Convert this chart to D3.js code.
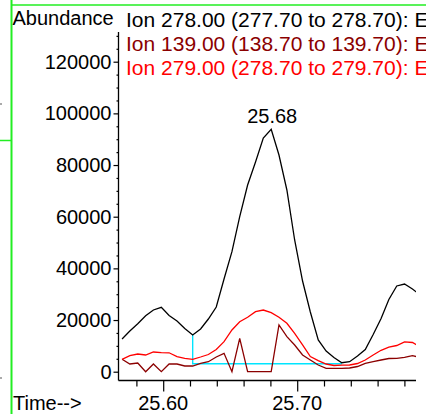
<!DOCTYPE html>
<html><head><meta charset="utf-8">
<script src="https://cdn.jsdelivr.net/npm/d3@7"></script>
<style>
html,body{margin:0;padding:0;background:#fff;overflow:hidden;}
svg{display:block;font-family:"Liberation Sans",Arial,sans-serif;}
</style></head>
<body>
<svg id="c" width="426" height="414"></svg>
<script>
const times = [25.5693,25.5751,25.5810,25.5869,25.5927,25.5986,25.6044,25.6103,25.6161,25.6220,
  25.6279,25.6337,25.6396,25.6454,25.6513,25.6571,25.6630,25.6689,25.6747,25.6806,
  25.6864,25.6923,25.6981,25.7040,25.7098,25.7157,25.7216,25.7274,25.7333,25.7391,
  25.7450,25.7508,25.7567,25.7626,25.7684,25.7743,25.7801,25.7860,25.7918];
const ion278 = [12660,15750,18580,21680,23880,24930,21760,19630,16720,14210,
  16530,20400,25050,35880,46450,60000,72270,81180,90470,93830,
  83890,70340,50990,35110,23110,12270,8010,5500,3480,3870,
  6080,8590,14400,20590,27950,33180,33950,32010,29690];
const ion139 = [4800,2980,3370,0,2980,0,2980,2980,2210,2210,
  3250,3870,5690,7120,0,12930,0,0,0,0,
  18080,13550,10340,6460,4530,2590,1320,1320,1320,1430,
  2010,3250,3870,4530,5110,5190,5570,6190,5500];
const ion279 = [4800,6190,6850,6460,7630,7350,7320,5810,5190,4800,
  5690,6660,8590,11610,16140,19360,21060,23230,23880,22840,
  21060,18740,14860,10340,5880,4260,2980,2400,2520,2590,
  3170,4530,6460,8280,9480,10140,11540,11300,9560];
const seriesNames = ["Ion 278.00 (277.70 to 278.70): EIC",
                     "Ion 139.00 (138.70 to 139.70): EIC",
                     "Ion 279.00 (278.70 to 279.70): EIC"];
const seriesColors = ["#000000","#8b0000","#ff0000"];
const yMajorTicks = [0,20000,40000,60000,80000,100000,120000];
const yMinorTicks = [5000,10000,15000,25000,30000,35000,45000,50000,55000,65000,70000,75000,
  85000,90000,95000,105000,110000,115000,125000,130000];
const xMajorTicks = [25.60,25.70];
const xMinorTicks = [25.58,25.62,25.64,25.66,25.68,25.72,25.74,25.76,25.78];
const peakLabel = "25.68";
const peakIndex = 19;
const baseStartIndex = 9, baseEndIndex = 28, baseValue = 3060;

const svg = d3.select("#c");
const x = d3.scaleLinear().domain([25.60,25.70]).range([163.2,297.2]);
const y = d3.scaleLinear().domain([0,120000]).range([371.7,61.7]);
const pLeft = 118.5, pRight = 416, pBottom = 380.5, pTop = 32;

// frame decorations
svg.append("line").attr("x1",11.5).attr("x2",11.5).attr("y1",0).attr("y2",414).attr("stroke","#22ee22").attr("stroke-width",2);
svg.append("line").attr("x1",11).attr("x2",426).attr("y1",5).attr("y2",5).attr("stroke","#22ee22").attr("stroke-width",1.5);
svg.append("line").attr("x1",0).attr("x2",11).attr("y1",140.5).attr("y2",140.5).attr("stroke","#22ee22").attr("stroke-width",1.5);
svg.append("rect").attr("x",0).attr("y",103).attr("width",2).attr("height",2).attr("fill","#aaa");
svg.append("rect").attr("x",0).attr("y",377).attr("width",2).attr("height",2).attr("fill","#aaa");

// axes lines
svg.append("line").attr("x1",pLeft).attr("x2",pLeft).attr("y1",pTop).attr("y2",pBottom).attr("stroke","#000").attr("stroke-width",1.3);
svg.append("line").attr("x1",pLeft).attr("x2",pRight).attr("y1",pBottom).attr("y2",pBottom).attr("stroke","#000").attr("stroke-width",1.3);

const yAx = svg.append("g").attr("transform",`translate(${pLeft},0)`)
  .call(d3.axisLeft(y).tickValues(yMajorTicks).tickSize(5).tickPadding(2).tickFormat(d3.format("d")));
yAx.select(".domain").remove();
yAx.selectAll("text").attr("font-size",20).attr("font-family","Liberation Sans, Arial, sans-serif").attr("fill","#000");
const yMin = svg.append("g").attr("transform",`translate(${pLeft},0)`)
  .call(d3.axisLeft(y).tickValues(yMinorTicks).tickSize(2).tickFormat(""));
yMin.select(".domain").remove();

const xAx = svg.append("g").attr("transform",`translate(0,${pBottom})`)
  .call(d3.axisBottom(x).tickValues(xMajorTicks).tickSize(11).tickFormat(""));
xAx.select(".domain").remove();
const xMin = svg.append("g").attr("transform",`translate(0,${pBottom})`)
  .call(d3.axisBottom(x).tickValues(xMinorTicks).tickSize(6).tickFormat(""));
xMin.select(".domain").remove();
svg.selectAll(".tick line").attr("stroke","#000").attr("stroke-width",1.2);

svg.selectAll("text.xl").data(xMajorTicks).enter().append("text").attr("class","xl")
  .attr("x",d=>x(d)).attr("y",410).attr("text-anchor","middle").attr("font-size",20).text(d=>d3.format(".2f")(d));
svg.append("text").attr("x",13).attr("y",410).attr("font-size",20).text("Time-->");
svg.append("text").attr("x",12.5).attr("y",25).attr("font-size",20).text("Abundance");

// legend
seriesNames.forEach((n,i)=>{
  svg.append("text").attr("x",126).attr("y",26.5+i*24).attr("font-size",21).attr("fill",seriesColors[i]).text(n);
});

// clip
svg.append("clipPath").attr("id","clip").append("rect").attr("x",pLeft).attr("y",0).attr("width",pRight-pLeft).attr("height",pBottom);
const plot = svg.append("g").attr("clip-path","url(#clip)");
const line = d3.line().x((d,i)=>x(times[i])).y(d=>y(d));

// baseline (cyan)
const bx = [times[baseStartIndex],times[baseStartIndex],times[baseEndIndex]];
const bv = [ion278[baseStartIndex],baseValue,baseValue];
plot.append("path").attr("d",d3.line().x((d,i)=>x(bx[i])).y(d=>y(d))(bv))
  .attr("fill","none").attr("stroke","#00e5ff").attr("stroke-width",1.4);

[ion139, ion279, ion278].forEach((s,k)=>{
  const col = [seriesColors[1],seriesColors[2],seriesColors[0]][k];
  plot.append("path").attr("d",line(s)).attr("fill","none").attr("stroke",col).attr("stroke-width",1.3).attr("stroke-linejoin","miter");
});

svg.append("text").attr("x",x(times[peakIndex])+1).attr("y",y(ion278[peakIndex])-6).attr("text-anchor","middle").attr("font-size",20).text(peakLabel);
</script>
</body></html>
